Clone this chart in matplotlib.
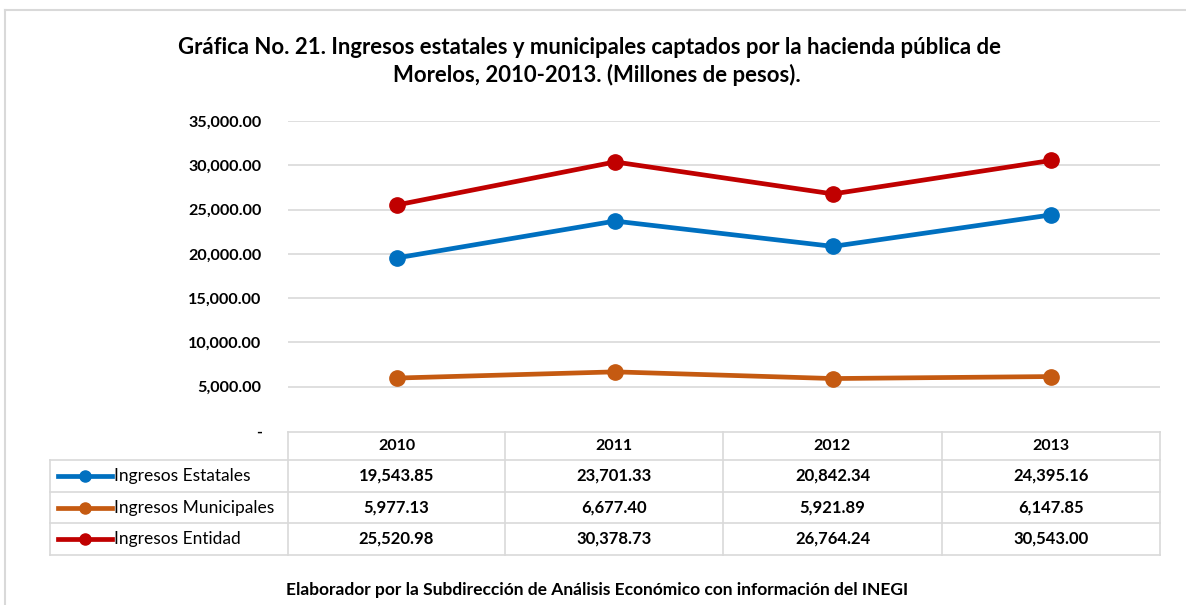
import numpy as np
import matplotlib
matplotlib.use("Agg")
from matplotlib import pyplot as plt
from matplotlib.lines import Line2D

plt.rcParams['font.family'] = ['Lato', 'DejaVu Sans']

years = ["2010", "2011", "2012", "2013"]
estatales = [19543.85, 23701.33, 20842.34, 24395.16]
municipales = [5977.13, 6677.40, 5921.89, 6147.85]
entidad = [25520.98, 30378.73, 26764.24, 30543.00]
series_names = ["Ingresos Estatales", "Ingresos Municipales", "Ingresos Entidad"]
series_colors = ["#0070C0", "#C55A11", "#C00000"]
y_ticks = [0, 5000, 10000, 15000, 20000, 25000, 30000, 35000]

W, H = 1186, 605
fig = plt.figure(figsize=(W / 100, H / 100), dpi=100)

def fx(x):
    return x / W

def fy(y):
    return 1 - y / H

grid_col = "#D9D9D9"

# outer frame (top and left only visible)
fig.add_artist(Line2D([fx(5), fx(5)], [fy(10), fy(605)], color=grid_col, lw=1.5, transform=fig.transFigure))
fig.add_artist(Line2D([fx(5), fx(1186)], [fy(10), fy(10)], color=grid_col, lw=1.5, transform=fig.transFigure))

# chart area
left, right, top, bottom = 288, 1160, 121, 431
ax = fig.add_axes([fx(left), fy(bottom), fx(right - left), (bottom - top) / H])
xs = np.arange(len(years))
all_series = [estatales, municipales, entidad]
for vals, col in zip(all_series, series_colors):
    ax.plot(xs, vals, color=col, lw=3.4, marker="o", markersize=11, zorder=3)

ax.set_xlim(-0.5, len(years) - 0.5)
ax.set_ylim(0, 35000)
ax.set_yticks(y_ticks)
ax.set_yticklabels(["-" if v == 0 else f"{v:,.2f}" for v in y_ticks], fontsize=11.6, fontweight="bold")
ax.set_xticks([])
ax.tick_params(axis="y", length=0, pad=19)
for t in y_ticks[1:]:
    ax.axhline(t, color=grid_col, lw=1.2, zorder=1)
for s in ax.spines.values():
    s.set_visible(False)

# data table
col_edges = [288, 505, 723, 942, 1160]
row_edges = [432, 460, 492, 523, 555]
tab_left = 50
lw_t = 1.2
# horizontal lines
fig.add_artist(Line2D([fx(col_edges[0]), fx(col_edges[-1])], [fy(row_edges[0])] * 2, color=grid_col, lw=lw_t, transform=fig.transFigure))
for r in row_edges[1:]:
    fig.add_artist(Line2D([fx(tab_left), fx(col_edges[-1])], [fy(r)] * 2, color=grid_col, lw=lw_t, transform=fig.transFigure))
# vertical lines
for c in col_edges:
    fig.add_artist(Line2D([fx(c)] * 2, [fy(row_edges[0]), fy(row_edges[-1])], color=grid_col, lw=lw_t, transform=fig.transFigure))
fig.add_artist(Line2D([fx(tab_left)] * 2, [fy(row_edges[1]), fy(row_edges[-1])], color=grid_col, lw=lw_t, transform=fig.transFigure))

# header
for i, yr in enumerate(years):
    cx = (col_edges[i] + col_edges[i + 1]) / 2
    cy = (row_edges[0] + row_edges[1]) / 2
    fig.text(fx(cx), fy(cy), yr, ha="center", va="center", fontsize=11.5, fontweight="bold")

# rows
for j, (name, vals, col) in enumerate(zip(series_names, all_series, series_colors)):
    cy = (row_edges[j + 1] + row_edges[j + 2]) / 2
    fig.add_artist(Line2D([fx(58), fx(112)], [fy(cy)] * 2, color=col, lw=3.4, transform=fig.transFigure))
    fig.add_artist(Line2D([fx(85)], [fy(cy)], color=col, marker="o", markersize=8, transform=fig.transFigure))
    fig.text(fx(114), fy(cy), name, ha="left", va="center", fontsize=12.5)
    for i, v in enumerate(vals):
        cx = (col_edges[i] + col_edges[i + 1]) / 2
        fig.text(fx(cx), fy(cy), f"{v:,.2f}", ha="center", va="center", fontsize=12, fontweight="bold")

# titles
fig.text(fx(590), fy(47), "Gráfica No. 21. Ingresos estatales y municipales captados por la hacienda pública de",
         ha="center", va="center", fontsize=15.9, fontweight="bold")
fig.text(fx(597), fy(75), "Morelos, 2010-2013. (Millones de pesos).",
         ha="center", va="center", fontsize=15.9, fontweight="bold")
fig.text(fx(597), fy(590), "Elaborador por la Subdirección de Análisis Económico con información del INEGI",
         ha="center", va="center", fontsize=12.5, fontweight="bold")

plt.savefig("out.png", dpi=100)
